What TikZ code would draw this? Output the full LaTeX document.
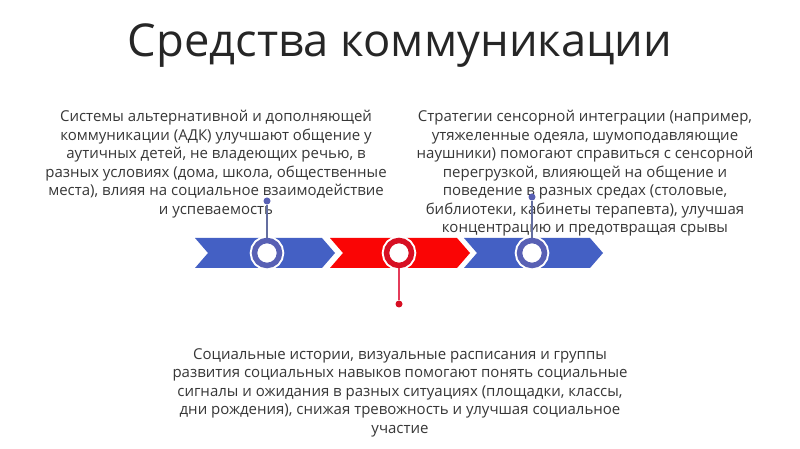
\documentclass[tikz,border=0pt]{standalone}
\usepackage{fontspec}
\setmainfont{Open Sans}
\usepackage{xcolor}
\definecolor{chevblue}{RGB}{68,96,196}
\definecolor{chevred}{RGB}{250,5,5}
\definecolor{ringblue}{RGB}{88,96,180}
\definecolor{ringred}{RGB}{215,15,35}
\definecolor{linkblue}{RGB}{100,110,160}
\definecolor{linkred}{RGB}{228,60,90}
\definecolor{bodytext}{RGB}{55,55,55}
\usepackage{tikz}
\usetikzlibrary{positioning}

\begin{document}
\begin{tikzpicture}[x=1pt, y=1pt,
  hub/.style={circle, draw=#1, line width=5.5pt, fill=white, minimum size=25pt, inner sep=0pt, preaction={draw=white, line width=9.5pt}},
  pin/.style={circle, fill=#1, minimum size=7pt, inner sep=0pt},
  link/.style={line width=1.5pt, draw=#1},
  blurb/.style={font=\fontsize{15}{18.5}\selectfont, text=bodytext, align=center, inner sep=0pt, anchor=north}
]
  \fill[white] (0,0) rectangle (800,449);
  \useasboundingbox (0,0) rectangle (800,449);

  \node[font=\fontsize{45.3}{54}\selectfont, text=black!85] (title) at (400,403) {Средства коммуникации};

  \fill[chevblue] (195,211) -- (322,211) -- (335,196) -- (322,181) -- (195,181) -- (208,196) -- cycle;
  \fill[chevred] (330,211) -- (457,211) -- (470,196) -- (457,181) -- (330,181) -- (343,196) -- cycle;
  \fill[chevblue] (464,211) -- (590,211) -- (603,196) -- (590,181) -- (464,181) -- (477,196) -- cycle;

  \node[blurb] (left) at (216,339) {Системы альтернативной и дополняющей\\коммуникации (АДК) улучшают общение у\\аутичных детей, не владеющих речью, в\\разных условиях (дома, школа, общественные\\места), влияя на социальное взаимодействие\\и успеваемость};
  \node[blurb] (right) at (585,339) {Стратегии сенсорной интеграции (например,\\утяжеленные одеяла, шумоподавляющие\\наушники) помогают справиться с сенсорной\\перегрузкой, влияющей на общение и\\поведение в разных средах (столовые,\\библиотеки, кабинеты терапевта), улучшая\\концентрацию и предотвращая срывы};
  \node[blurb] (bottom) at (400,101) {Социальные истории, визуальные расписания и группы\\развития социальных навыков помогают понять социальные\\сигналы и ожидания в разных ситуациях (площадки, классы,\\дни рождения), снижая тревожность и улучшая социальное\\участие};

  \node[hub=ringblue] (c1) at (267,196) {};
  \node[hub=ringred] (c2) at (399,196) {};
  \node[hub=ringblue] (c3) at (532,196) {};

  \node[pin=ringblue] (d1) at (267,248) {};
  \node[pin=ringred] (d2) at (399,145) {};
  \node[pin=ringblue] (d3) at (532,252) {};

  \draw[link=linkblue] (c1) -- (d1);
  \draw[link=linkred] (c2) -- (d2);
  \draw[link=linkblue] (c3) -- (d3);
\end{tikzpicture}
\end{document}
